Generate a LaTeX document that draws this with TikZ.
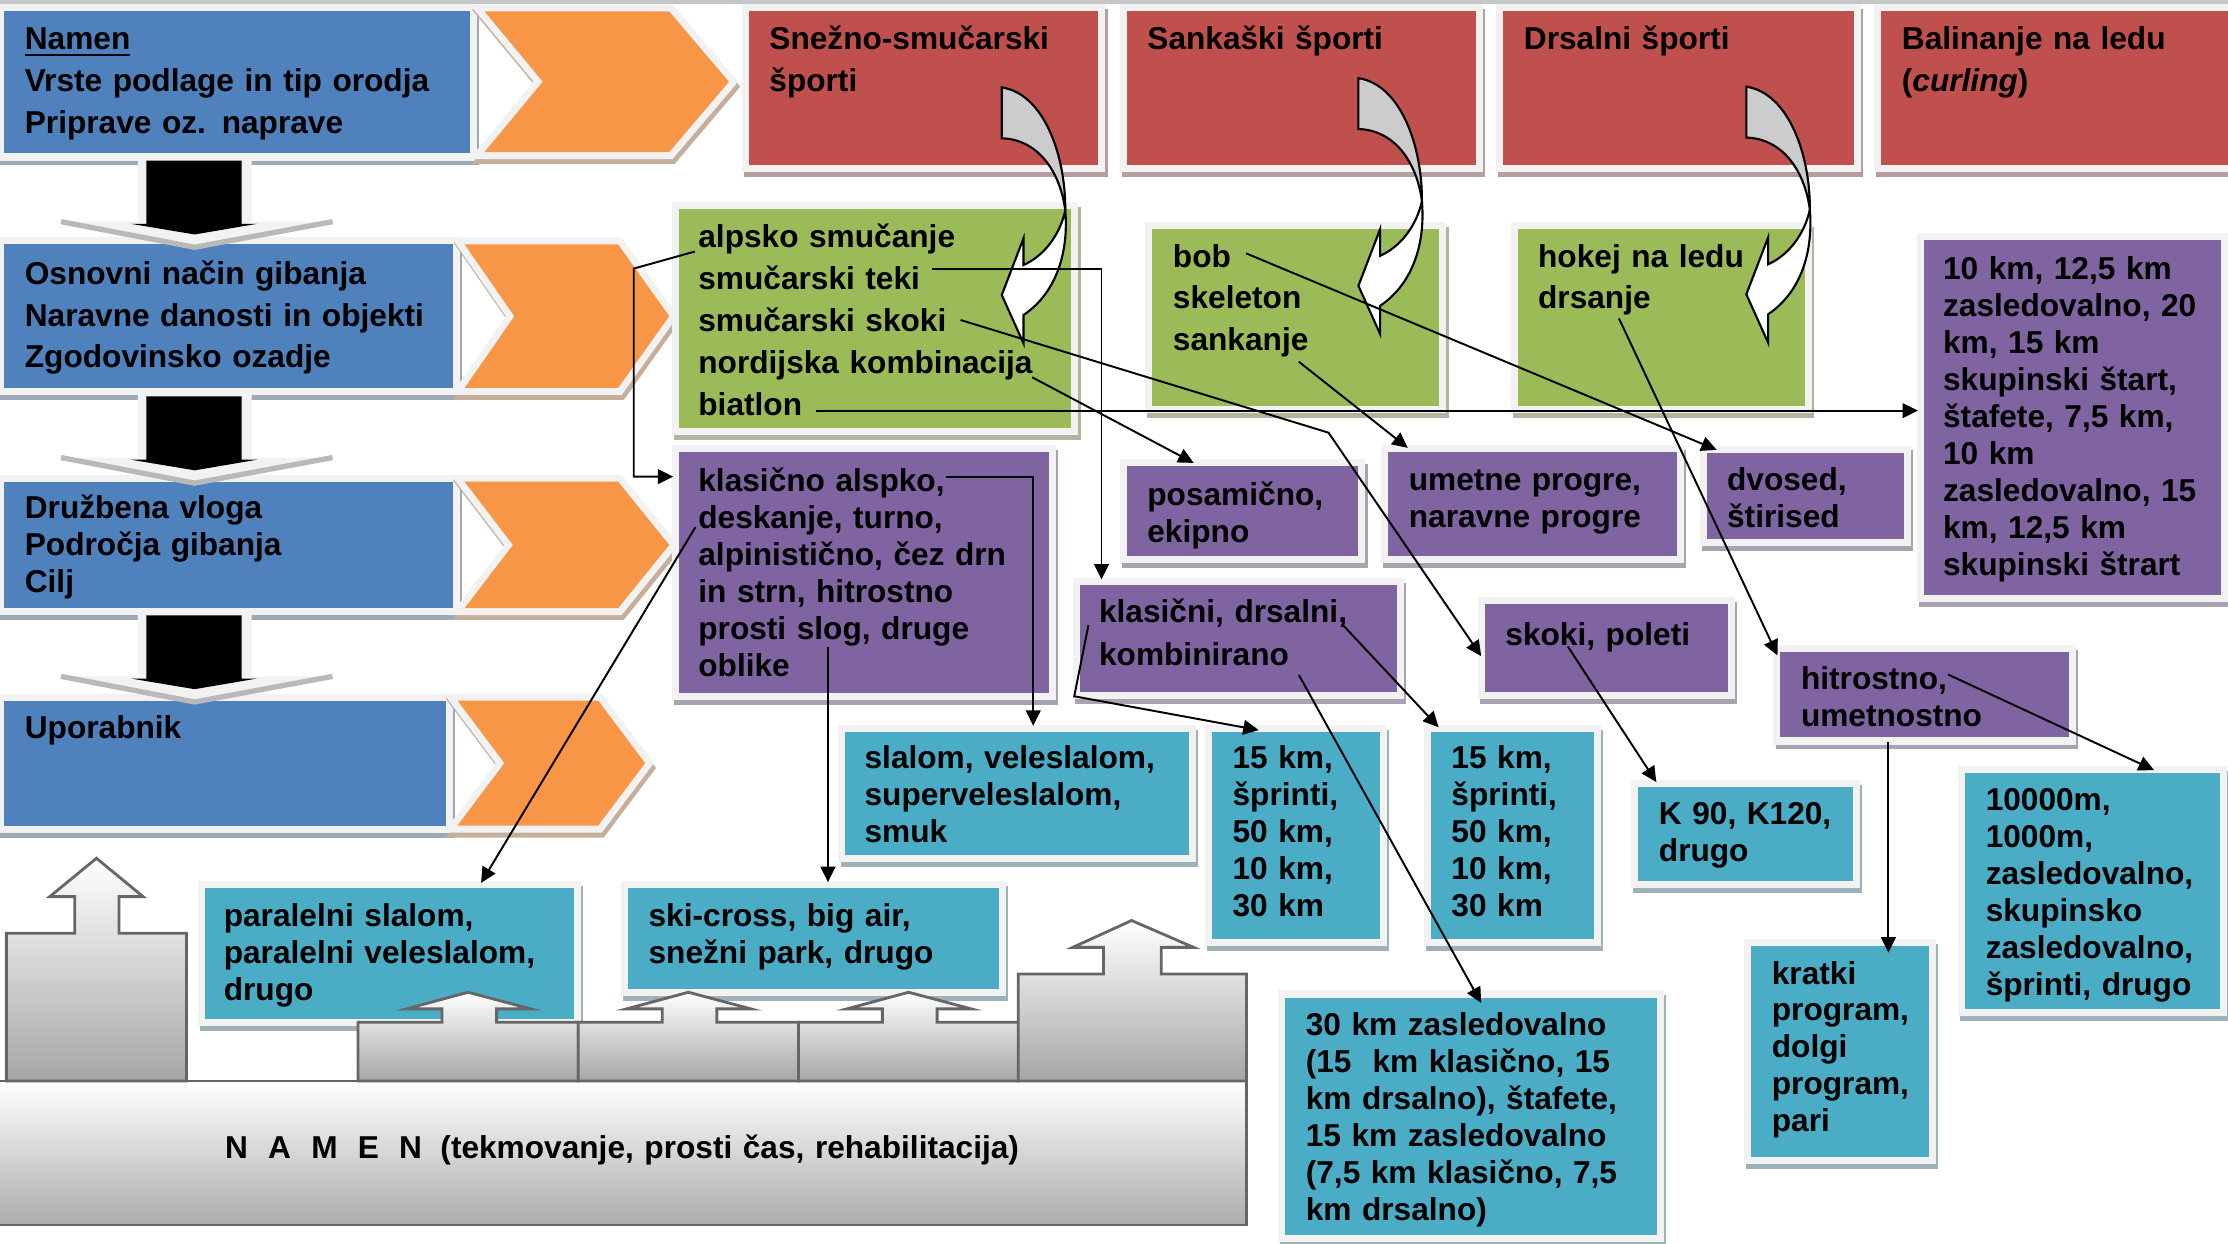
\documentclass[tikz,border=0pt]{standalone}
\usepackage{fontspec}
\setmainfont{Liberation Sans}
\usetikzlibrary{arrows.meta,fit,calc}
\definecolor{bblue}{HTML}{4F81BD}
\definecolor{orng}{HTML}{F79646}
\definecolor{rred}{HTML}{C0504D}
\definecolor{grn}{HTML}{9BBB59}
\definecolor{purp}{HTML}{8064A2}
\definecolor{cyn}{HTML}{4BACC6}
\definecolor{frm}{HTML}{F2F2F2}
\colorlet{bsh}{bblue!50!black!45}
\colorlet{osh}{orng!50!black!45}
\colorlet{rsh}{rred!50!black!45}
\colorlet{gsh}{grn!50!black!45}
\colorlet{psh}{purp!50!black!45}
\colorlet{csh}{cyn!50!black!45}
\tikzstyle{framed}=[inner sep=0pt, preaction={draw=frm, line width=4pt}]
\tikzstyle{bbox}=[preaction={fill=bsh, draw=bsh, line width=4pt, transform canvas={xshift=0.6pt,yshift=-1.4pt}}, framed, fill=bblue]
\tikzstyle{obox}=[preaction={fill=osh, draw=osh, line width=4pt, transform canvas={xshift=0.6pt,yshift=-1.4pt}}, framed, fill=orng]
\tikzstyle{rbox}=[preaction={fill=rsh, draw=rsh, line width=4pt, transform canvas={xshift=0.6pt,yshift=-1.4pt}}, framed, fill=rred]
\tikzstyle{gbox}=[preaction={fill=gsh, draw=gsh, line width=4pt, transform canvas={xshift=0.6pt,yshift=-1.4pt}}, framed, fill=grn]
\tikzstyle{pbox}=[preaction={fill=psh, draw=psh, line width=4pt, transform canvas={xshift=0.6pt,yshift=-1.4pt}}, framed, fill=purp]
\tikzstyle{cbox}=[preaction={fill=csh, draw=csh, line width=4pt, transform canvas={xshift=0.6pt,yshift=-1.4pt}}, framed, fill=cyn]
\tikzstyle{txt}=[anchor=base west, inner sep=0pt, align=left, text width=6cm, font=\bfseries\fontsize{9}{10.5}\selectfont]
\tikzstyle{ltxt}=[txt, font=\bfseries\fontsize{9}{11.9}\selectfont]
\tikzstyle{conn}=[-{Triangle[length=4.4pt,width=4.2pt]}, line width=0.55pt, shorten >=1.5pt]
\tikzstyle{carr}=[draw=black, line width=0.6pt]
\tikzstyle{block}=[draw=black!60, line width=0.8pt, top color=white, bottom color=gray!70]

\begin{document}
\begin{tikzpicture}[x=0.01421cm, y=-0.01421cm]
\useasboundingbox (0,0) rectangle (1568,875);
%The top rule
\draw[gray!45, line width=1pt] (0,1.5) -- (1568,1.5);

%The left column
\node[bbox, fit={(3,8) (331,108)}] (b1) {};
\node[bbox, fit={(3,172) (319,273)}] (b2) {};
\node[bbox, fit={(3,339) (319,428)}] (b3) {};
\node[bbox, fit={(3,493) (314,581)}] (b4) {};
\node[ltxt] (b1t) at (17,35) {\underline{Namen}\\Vrste podlage in tip orodja\\Priprave oz. naprave};
\node[ltxt] (b2t) at (17,200) {Osnovni način gibanja\\Naravne danosti in objekti\\Zgodovinsko ozadje};
\node[txt] (b3t) at (17,365) {Družbena vloga\\Področja gibanja\\Cilj};
\node[txt] (b4t) at (17,520) {Uporabnik};

%The chevrons
\path[obox] (341,8) -- (471,8) -- (513,57.5) -- (471,107) -- (341,107) -- (382,57.5) -- cycle;
\path[obox] (327,172) -- (435,172) -- (471,222.5) -- (435,273) -- (327,273) -- (362,222.5) -- cycle;
\path[obox] (327,339) -- (435,339) -- (471,383.5) -- (435,428) -- (327,428) -- (361,383.5) -- cycle;
\path[obox] (322,493) -- (421,493) -- (454,537) -- (421,581) -- (322,581) -- (355,537) -- cycle;

%The down arrows
\foreach \y in {113,279,433}{
	\fill[frm] (97,\y-3) -- (177,\y-3) -- (177,\y+43) -- (234,\y+43) -- (137,\y+61) -- (43,\y+43) -- (97,\y+43) -- cycle;
	\draw[gray!55, line width=1.5pt] (43,\y+43) -- (137,\y+61) -- (234,\y+43);
	\fill[black] (103,\y) -- (170,\y) -- (170,\y+44.5) -- (181,\y+44.5) -- (137,\y+52) -- (92,\y+44.5) -- (103,\y+44.5) -- cycle;
}

%The sports
\node[rbox, fit={(527,8) (773,116)}] (r1) {};
\node[rbox, fit={(793,8) (1039,116)}] (r2) {};
\node[rbox, fit={(1058,8) (1305,116)}] (r3) {};
\node[rbox, fit={(1324,8) (1575,116)}] (r4) {};
\node[ltxt] (r1t) at (541,35) {Snežno-smučarski\\športi};
\node[ltxt] (r2t) at (807,35) {Sankaški športi};
\node[ltxt] (r3t) at (1072,35) {Drsalni športi};
\node[ltxt] (r4t) at (1338,35) {Balinanje na ledu\\(\textit{curling})};

%The disciplines
\node[gbox, fit={(478,147) (754,301)}] (g1) {};
\node[gbox, fit={(811,161) (1013,286)}] (g2) {};
\node[gbox, fit={(1068,161) (1270,286)}] (g3) {};
\node[ltxt] (g1t) at (491,174.5) {alpsko smučanje\\smučarski teki\\smučarski skoki\\nordijska kombinacija\\biatlon};
\node[ltxt] (g2t) at (825,188) {bob\\skeleton\\sankanje};
\node[ltxt] (g3t) at (1082,188) {hokej na ledu\\drsanje};

%The forms
\node[pbox, fit={(478,318) (738,488)}] (p1) {};
\node[pbox, fit={(793,328) (956,391)}] (p2) {};
\node[pbox, fit={(977,318) (1180,391)}] (p3) {};
\node[pbox, fit={(1201,318.5) (1340,379)}] (p4) {};
\node[pbox, fit={(1354,169) (1563,419)}] (p5) {};
\node[pbox, fit={(760,412) (983,487)}] (p6) {};
\node[pbox, fit={(1045,425) (1216,487)}] (p7) {};
\node[pbox, fit={(1253,459) (1456,519)}] (p8) {};
\node[txt] (p1t) at (491,346) {klasično alspko,\\deskanje, turno,\\alpinistično, čez drn\\in strn, hitrostno\\prosti slog, druge\\oblike};
\node[txt] (p2t) at (807,356) {posamično,\\ekipno};
\node[txt] (p3t) at (991,345) {umetne progre,\\naravne progre};
\node[txt] (p4t) at (1215,345.5) {dvosed,\\štirised};
\node[txt] (p5t) at (1367,197) {10 km, 12,5 km\\zasledovalno, 20\\km, 15 km\\skupinski štart,\\štafete, 7,5 km,\\10 km\\zasledovalno, 15\\km, 12,5 km\\skupinski štrart};
\node[txt, font=\bfseries\fontsize{9}{12.2}\selectfont] (p6t) at (773,438) {klasični, drsalni,\\kombinirano};
\node[txt] (p7t) at (1059,454) {skoki, poleti};
\node[txt] (p8t) at (1267,485.5) {hitrostno,\\umetnostno};

%The events
\node[cbox, fit={(595,515) (836.5,602)}] (c1) {};
\node[cbox, fit={(853,515) (971,661)}] (c2) {};
\node[cbox, fit={(1007,515) (1122,661)}] (c3) {};
\node[cbox, fit={(1153,554) (1304,620)}] (c4) {};
\node[cbox, fit={(904,702) (1166,869)}] (c5) {};
\node[cbox, fit={(1232,666) (1357.5,814)}] (c6) {};
\node[cbox, fit={(1383,544) (1562,710)}] (c7) {};
\node[cbox, fit={(144,625) (404,717)}] (c8) {};
\node[cbox, fit={(442,625) (703,696)}] (c9) {};
\node[txt] (c1t) at (608,541) {slalom, veleslalom,\\superveleslalom,\\smuk};
\node[txt] (c2t) at (867,541) {15 km,\\šprinti,\\50 km,\\10 km,\\30 km};
\node[txt] (c3t) at (1021,541) {15 km,\\šprinti,\\50 km,\\10 km,\\30 km};
\node[txt] (c4t) at (1167,580.5) {K 90, K120,\\drugo};
\node[txt] (c5t) at (918.5,729) {30 km zasledovalno\\(15\ \ km klasično, 15\\km drsalno), štafete,\\15 km zasledovalno\\(7,5 km klasično, 7,5\\km drsalno)};
\node[txt] (c6t) at (1246.5,692.5) {kratki\\program,\\dolgi\\program,\\pari};
\node[txt] (c7t) at (1397,570.5) {10000m,\\1000m,\\zasledovalno,\\skupinsko\\zasledovalno,\\šprinti, drugo};
\node[txt] (c8t) at (157,652) {paralelni slalom,\\paralelni veleslalom,\\drugo};
\node[txt] (c9t) at (456,652) {ski-cross, big air,\\snežni park, drugo};

%The curved arrows
\foreach \x/\y in {705/61.5, 956/55, 1229/61}{
	\begin{scope}[shift={(\x,\y)}]
		\draw[carr, fill=gray!40] (0,0) .. controls (30,4.5) and (45,48.5) .. (44.7,86.5)
			.. controls (41,58.5) and (25,36.5) .. (0,35.8) -- cycle;
		\draw[carr, fill=white] (44.7,86.5) .. controls (47,113.5) and (40,143.5) .. (15.3,160.2)
			-- (15.3,180.1) -- (0,146.1) -- (15.3,106.2) -- (15.3,125)
			.. controls (30,118.5) and (41,103.5) .. (44.7,86.5) -- cycle;
	\end{scope}
}

%The connector ends
\coordinate (alp-s) at (489,177);
\coordinate (alp-b) at (446,189);
\coordinate (teki-s) at (656,189.3);
\coordinate (skoki-s) at (676,225.2);
\coordinate (skoki-b) at (935,304.5);
\coordinate (nord-s) at (726.4,265.5);
\coordinate (bia-s) at (574.5,289);
\coordinate (klas-s) at (666,335.4);
\coordinate (desk-s) at (489.4,371);
\coordinate (slog-s) at (582.7,455);
\coordinate (kl-s) at (766,440);
\coordinate (kl-b) at (756,490);
\coordinate (drs-s) at (944.3,439);
\coordinate (komb-s) at (914.1,475);
\coordinate (skp-s) at (1103.4,455);
\coordinate (bob-s) at (877,178.3);
\coordinate (sank-s) at (914,254.5);
\coordinate (drsanje-s) at (1139.3,224);
\coordinate (hitr-s) at (1371,474.7);
\coordinate (umet-s) at (1329,522);

%The connectors
\draw[conn] (alp-s) -- (alp-b) |- (p1.west |- klas-s);
\draw[conn] (teki-s) -| ($(p6.north west)!0.07!(p6.north east)$);
\draw[conn] (skoki-s) -- (skoki-b) -- ($(p7.north west)!0.64!(p7.south west)$);
\draw[conn] (nord-s) -- ($(p2.north west)!0.31!(p2.north east)$);
\draw[conn] (bia-s) -- (p5.west |- bia-s);
\draw[conn] (klas-s) -| ($(c1.north west)!0.547!(c1.north east)$);
\draw[conn] (desk-s) -- ($(c8.north west)!0.74!(c8.north east)$);
\draw[conn] (slog-s) -- (slog-s |- c9.north);
\draw[conn] (kl-s) -- (kl-b) -- ($(c2.north west)!0.311!(c2.north east)$);
\draw[conn] (drs-s) -- ($(c3.north west)!0.073!(c3.north east)$);
\draw[conn, shorten >=-2pt] (komb-s) -- ($(c5.north west)!0.519!(c5.north east)$);
\draw[conn] (skp-s) -- ($(c4.north west)!0.1!(c4.north east)$);
\draw[conn] (bob-s) -- ($(p4.north west)!0.079!(p4.north east)$);
\draw[conn] (sank-s) -- ($(p3.north west)!0.084!(p3.north east)$);
\draw[conn] (drsanje-s) -- ($(p8.north west)!0.1!(p8.south west)$);
\draw[conn] (hitr-s) -- ($(c7.north west)!0.76!(c7.north east)$);
\draw[conn, shorten >=-2pt] (umet-s) -- (umet-s |- c6.north);

%The base
\draw[block, bottom color=gray!65] (-3,760.7) rectangle (877.3,862.1);
\node[txt, text width=9cm] (namen) at (158,815) {N\hspace{5.75pt}A\hspace{5.75pt}M\hspace{5.75pt}E\hspace{5.75pt}N\hspace{5.25pt}(tekmovanje, prosti čas, rehabilitacija)};
\draw[block] (4.5,760.7) -- (4.5,656.8) -- (52.6,656.8) -- (52.6,631) -- (35,631) -- (67.9,604) -- (100.7,631)
	-- (83.7,631) -- (83.7,656.8) -- (131.2,656.8) -- (131.2,760.7) -- cycle;
\foreach \x in {252,407,562}
	\draw[block] (\x,760.7) -- (\x,719.4) -- (\x+59,719.4) -- (\x+59,710) -- (\x+34,710) -- (\x+77.5,698.3)
		-- (\x+121.5,710) -- (\x+97.5,710) -- (\x+97.5,719.4) -- (\x+155,719.4) -- (\x+155,760.7) -- cycle;
\draw[block] (716.6,760.7) -- (716.6,685.4) -- (776.6,685.4) -- (776.6,666.7) -- (755,666.7) -- (796.4,647.8) -- (840,666.7)
	-- (817.3,666.7) -- (817.3,685.4) -- (877.3,685.4) -- (877.3,760.7) -- cycle;
\end{tikzpicture}
\end{document}
